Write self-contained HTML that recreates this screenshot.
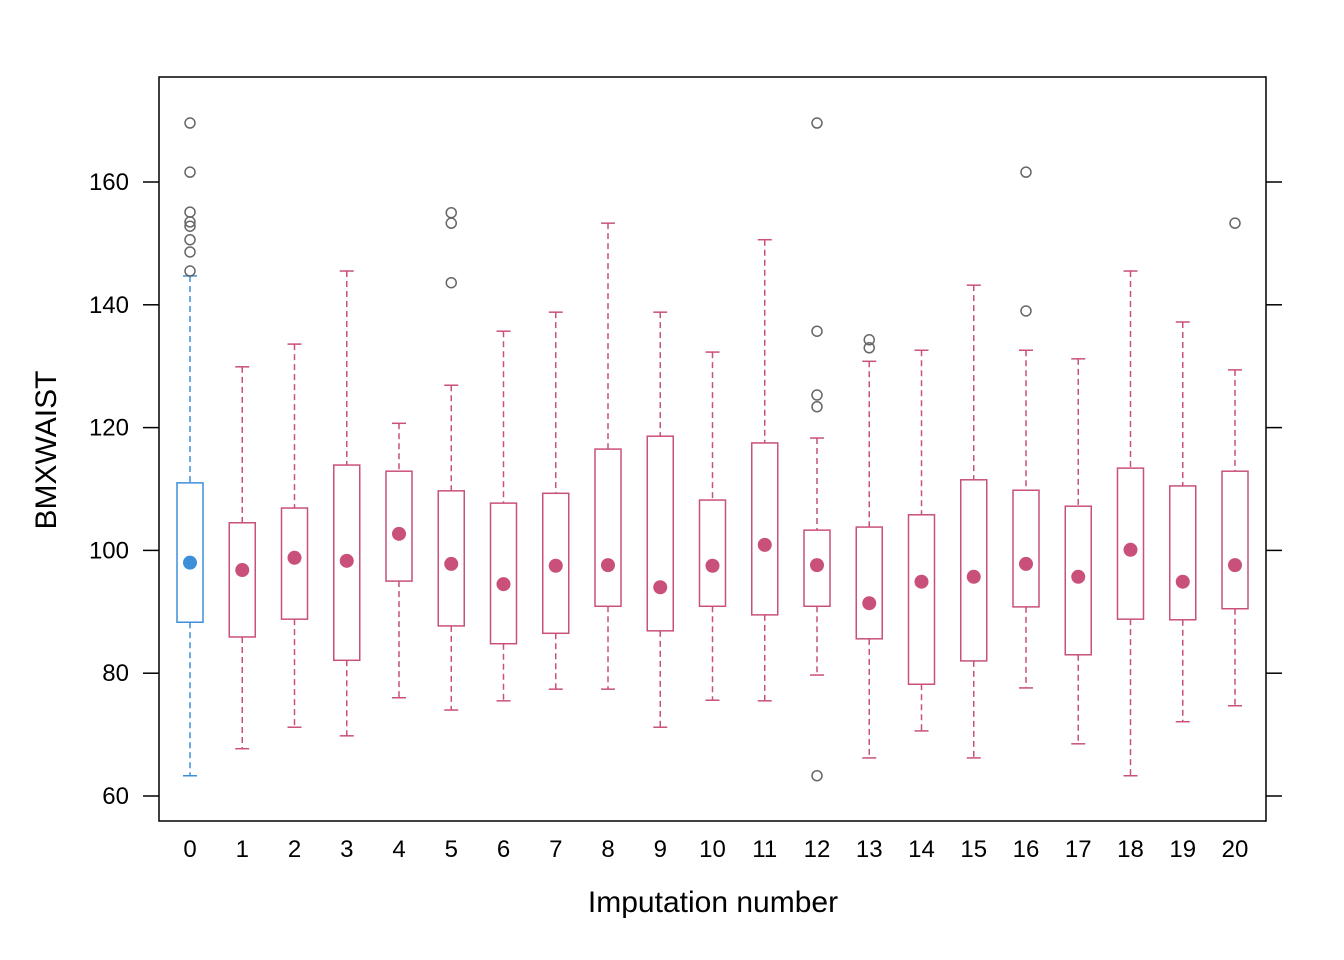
<!DOCTYPE html>
<html><head><meta charset="utf-8"><style>
html,body{margin:0;padding:0;background:#fff;}
svg{display:block;font-family:"Liberation Sans",Arial,sans-serif;}
</style></head><body>
<svg id="chart" width="1344" height="960" viewBox="0 0 1344 960" xmlns="http://www.w3.org/2000/svg">
<rect x="159" y="77" width="1107" height="744" fill="none" stroke="#000" stroke-width="1.5"/>
<g id="axes"></g>
<g id="marks"></g>
<text x="713" y="912" text-anchor="middle" font-size="30">Imputation number</text>
<text transform="translate(56,450) rotate(-90)" text-anchor="middle" font-size="30">BMXWAIST</text>
</svg>
<script>
const categories = ["0","1","2","3","4","5","6","7","8","9","10","11","12","13","14","15","16","17","18","19","20"];
const whiskerHigh = [144.7,129.9,133.6,145.5,120.7,126.9,135.7,138.8,153.3,138.8,132.3,150.6,118.3,130.8,132.6,143.2,132.6,131.2,145.5,137.2,129.4];
const q3 = [111,104.5,106.9,113.9,112.9,109.7,107.7,109.3,116.5,118.6,108.2,117.5,103.3,103.8,105.8,111.5,109.8,107.2,113.4,110.5,112.9];
const medians = [98,96.8,98.8,98.3,102.7,97.8,94.5,97.5,97.6,94,97.5,100.9,97.6,91.4,94.9,95.7,97.8,95.7,100.1,94.9,97.6];
const q1 = [88.3,85.9,88.8,82.1,95,87.7,84.8,86.5,90.9,86.9,90.9,89.5,90.9,85.6,78.2,82,90.8,83,88.8,88.7,90.5];
const whiskerLow = [63.3,67.7,71.2,69.8,76,74,75.5,77.4,77.4,71.2,75.6,75.5,79.7,66.2,70.6,66.2,77.6,68.5,63.3,72.1,74.7];
const outlierGroup = [0,0,0,0,0,0,0,0,5,5,5,12,12,12,12,12,13,13,16,16,20];
const outlierValue = [169.6,161.6,155.1,153.5,152.8,150.6,148.6,145.5,155,153.3,143.6,169.6,135.7,125.3,123.4,63.3,134.3,133,161.6,139,153.3];
const yTicks = [60,80,100,120,140,160];

const NS="http://www.w3.org/2000/svg";
const yS = v => 796 - (v-60)*6.14;
const xS = i => 190 + i*52.25;
function mk(tag, attrs, parent){const e=document.createElementNS(NS,tag);for(const k in attrs)e.setAttribute(k,attrs[k]);parent.appendChild(e);return e;}
const axes=document.getElementById('axes'), marks=document.getElementById('marks');
yTicks.forEach(t=>{
  const y=yS(t);
  const l=mk('line',{x1:143,x2:159,y1:y,y2:y,stroke:'#000','stroke-width':1.5},axes);
  
  
  const r=mk('line',{x1:1266,x2:1282,y1:y,y2:y,stroke:'#000','stroke-width':1.5},axes);
  
  
  const tx=mk('text',{x:129,y:y+8,'text-anchor':'end','font-size':24},axes);
  tx.textContent=t;
  
  
});
categories.forEach((c,i)=>{
  const tx=mk('text',{x:xS(i),y:857,'text-anchor':'middle','font-size':24},axes);
  tx.textContent=c;
  
  
});
categories.forEach((c,i)=>{
  const col = i===0 ? '#3d8fd9' : '#c9507a';
  const x=xS(i), hw=13, cw=7;
  const g=mk('g',{},marks);
  
  
  mk('line',{x1:x,x2:x,y1:yS(whiskerHigh[i]),y2:yS(q3[i]),stroke:col,'stroke-width':1.5,'stroke-dasharray':'6,4'},g);
  mk('line',{x1:x,x2:x,y1:yS(q1[i]),y2:yS(whiskerLow[i]),stroke:col,'stroke-width':1.5,'stroke-dasharray':'6,4'},g);
  mk('line',{x1:x-cw,x2:x+cw,y1:yS(whiskerHigh[i]),y2:yS(whiskerHigh[i]),stroke:col,'stroke-width':1.5},g);
  mk('line',{x1:x-cw,x2:x+cw,y1:yS(whiskerLow[i]),y2:yS(whiskerLow[i]),stroke:col,'stroke-width':1.5},g);
  mk('rect',{x:x-hw,y:yS(q3[i]),width:2*hw,height:yS(q1[i])-yS(q3[i]),fill:'none',stroke:col,'stroke-width':1.5},g);
  mk('circle',{cx:x,cy:yS(medians[i]),r:7,fill:col},g);
});
outlierGroup.forEach((gi,k)=>{
  const o=mk('circle',{cx:xS(gi),cy:yS(outlierValue[k]),r:5,fill:'none',stroke:'#666','stroke-width':1.5},marks);
  
  
});
</script>
</body></html>
